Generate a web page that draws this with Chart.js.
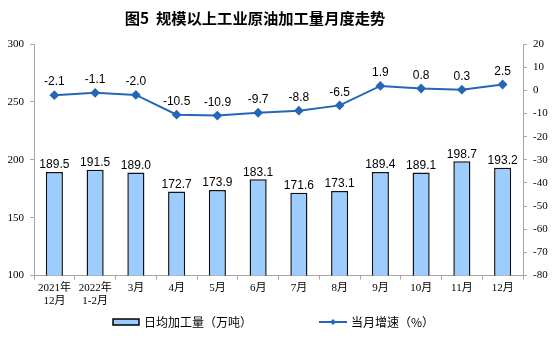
<!DOCTYPE html>
<html>
<head>
<meta charset="utf-8">
<script src="https://cdn.jsdelivr.net/npm/chart.js@4"></script>
<style>
body{margin:0;background:#fff;}
#wrap{position:relative;width:554px;height:353px;}
#title{position:absolute;top:6px;left:0;width:510px;text-align:center;font:bold 15.3px 'Noto Sans CJK SC',sans-serif;color:#000;}
.leg{position:absolute;top:313px;font:12px 'Noto Sans CJK SC',sans-serif;color:#000;display:flex;align-items:center;white-space:nowrap;}
.leg canvas{margin-right:4px;}
</style>
</head>
<body>
<div id="wrap">
<canvas id="chart" width="554" height="353"></canvas>
<div id="title">图5&nbsp;&nbsp;规模以上工业原油加工量月度走势</div>
<div class="leg" id="leg0" style="left:112px"></div>
<div class="leg" id="leg1" style="left:319px"></div>
</div>
<script>
const months = [["2021年","12月"],["2022年","1-2月"],"3月","4月","5月","6月","7月","8月","9月","10月","11月","12月"];
const dailyOutput = [189.5,191.5,189.0,172.7,173.9,183.1,171.6,173.1,189.4,189.1,198.7,193.2];
const growth = [-2.1,-1.1,-2.0,-10.5,-10.9,-9.7,-8.8,-6.5,1.9,0.8,0.3,2.5];
const leftTicks = [100,150,200,250,300];
const rightTicks = [-80,-70,-60,-50,-40,-30,-20,-10,0,10,20];
const seriesNames = ["日均加工量（万吨）","当月增速（%）"];

const barColor = "#9DCDFF";
const lineColor = "#2566B8";
const axisColor = "#A6A6A6";
const serif = "'Liberation Serif', 'Noto Sans CJK SC', serif";

function legendIcon(kind){
const c=document.createElement("canvas");
c.width=28;c.height=10;
const g=c.getContext("2d");
if(kind==="bar"){
g.fillStyle=barColor;g.fillRect(1,2,26,6);
g.strokeStyle="#000";g.lineWidth=1.5;g.strokeRect(1,2,26,6);
}else{
g.strokeStyle=lineColor;g.lineWidth=2;
g.beginPath();g.moveTo(0,5);g.lineTo(28,5);g.stroke();
g.fillStyle=lineColor;g.beginPath();
g.moveTo(14,2);g.lineTo(17,5);g.lineTo(14,8);g.lineTo(11,5);g.closePath();g.fill();
}
return c;
}

["bar","line"].forEach((k,i)=>{
const el=document.getElementById("leg"+i);
el.appendChild(legendIcon(k));
const s=document.createElement("span");
s.textContent=seriesNames[i];
el.appendChild(s);
});

// value labels over bars and points
const valueLabels={
id:"valueLabels",
afterDatasetsDraw(chart){
const ctx=chart.ctx;
ctx.save();
ctx.font="12px 'Liberation Sans', Arial, sans-serif";
ctx.fillStyle="#000";
ctx.textAlign="center";
ctx.textBaseline="bottom";
chart.getDatasetMeta(0).data.forEach((b,i)=>{
ctx.fillText(dailyOutput[i].toFixed(1),b.x,b.y-1);
});
chart.getDatasetMeta(1).data.forEach((p,i)=>{
ctx.fillText(growth[i].toFixed(1),p.x,p.y-7);
});
ctx.restore();
}
};

new Chart(document.getElementById("chart"),{
data:{
labels:months,
datasets:[{
type:"bar",
label:seriesNames[0],
data:dailyOutput,
yAxisID:"y",
backgroundColor:barColor,
borderColor:"#111",
borderWidth:1.5,
barPercentage:0.84,
categoryPercentage:0.5,
order:2
},{
type:"line",
label:seriesNames[1],
data:growth,
yAxisID:"y1",
borderColor:lineColor,
backgroundColor:lineColor,
borderWidth:2,
pointStyle:"rectRot",
pointRadius:3.5,
pointBackgroundColor:lineColor,
order:1
}]
},
options:{
responsive:false,
animation:false,
layout:{padding:{left:0,right:0,top:44,bottom:43}},
plugins:{
title:{display:false},
legend:{display:false},
tooltip:{enabled:false}
},
scales:{
x:{
grid:{display:true,drawOnChartArea:false,offset:true,tickLength:4,color:axisColor},
border:{color:axisColor,width:1},
ticks:{font:{family:serif,size:11},color:"#000",maxRotation:0,padding:2}
},
y:{
position:"left",
min:100,max:300,
afterBuildTicks(axis){axis.ticks=leftTicks.map(v=>({value:v}));},
afterFit(axis){axis.width=34;},
grid:{drawOnChartArea:false,tickLength:4,color:axisColor},
border:{color:axisColor,width:1},
ticks:{font:{family:serif,size:11},color:"#000",padding:6}
},
y1:{
position:"right",
min:-80,max:20,
afterBuildTicks(axis){axis.ticks=rightTicks.map(v=>({value:v}));},
afterFit(axis){axis.width=31;},
grid:{drawOnChartArea:false,tickLength:4,color:axisColor},
border:{color:axisColor,width:1},
ticks:{font:{family:serif,size:11},color:"#000",padding:6}
}
}
},
plugins:[valueLabels]
});
</script>
</body>
</html>
